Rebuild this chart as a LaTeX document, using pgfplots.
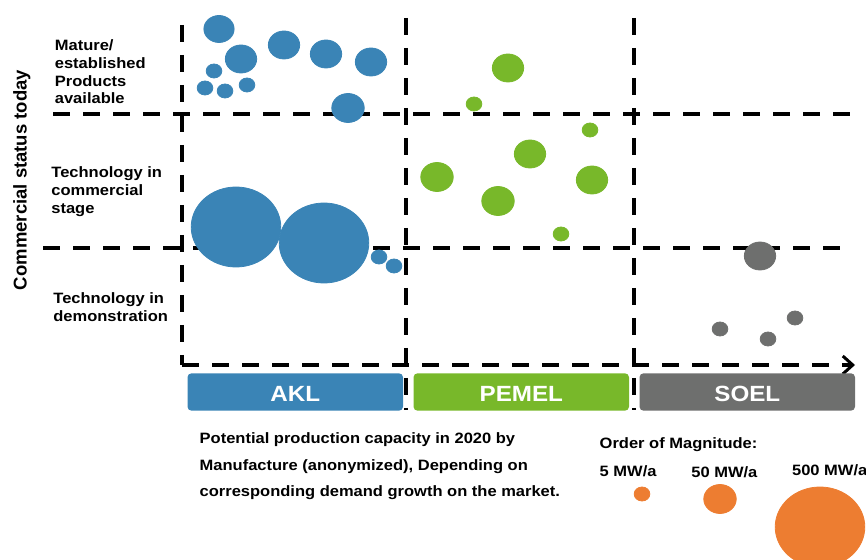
\documentclass[border=0pt]{standalone}
\usepackage{pgfplots}
\usepackage{pgfplotstable}
\pgfplotsset{compat=1.18}
\usepackage{fontspec}
\setmainfont{Liberation Sans}[FakeStretch=1.1]
\newfontfamily\rotfont{Liberation Sans}
\usetikzlibrary{arrows.meta}
\definecolor{akl}{HTML}{3A84B6}
\definecolor{pem}{HTML}{78B82A}
\definecolor{soe}{HTML}{6E6F6E}
\definecolor{org}{HTML}{ED7D31}
\pgfplotstableread{
x y r
219 29 13.5
241 59 14
284 45 14
326 54 14
371 62 14
214 71 7
205 88 7
225 91 7
247 85 7
348 108 14.5
236 227 40
324 243 40
379 257 7
394 266 7
}\akldata
\pgfplotstableread{
x y r
508 68 14
474 104 7
590 130 7
530 154 14
437 177 14.5
592 180 14
498 201 14.5
561 234 7
}\pemdata
\pgfplotstableread{
x y r
760 256 14
720 329 7
768 339 7
795 318 7
}\soedata
\pgfplotstableread{
x y r
642 494 7
720 499 14.5
820 527 40
}\orgdata
\begin{document}
\begin{tikzpicture}[
  txt/.style={inner sep=0pt, anchor=base west, font=\bfseries\fontsize{7.5}{9}\selectfont},
  box/.style={inner sep=0pt, anchor=base, text=white, font=\bfseries\fontsize{11}{11}\selectfont},
]
\begin{axis}[name=ax, width=433pt, height=280pt, scale only axis,
  xmin=0, xmax=866, ymin=0, ymax=560, y dir=reverse, hide axis, clip=false,
  bub/.style={scatter, only marks, mark=*,
    scatter/use mapped color={draw=#1, fill=#1},
    mark options={xscale=1.12},
    visualization depends on={0.5*\thisrow{r} \as \rad},
    scatter/@pre marker code/.append style={/tikz/mark size=\rad}},
  dl/.style={black, line width=2pt, dash pattern=on 8.7pt off 6.3pt},
]
% dashed grid
\addplot[dl] coordinates {(182,25) (182,365)};
\addplot[dl] coordinates {(406,18) (406,410)};
\addplot[dl] coordinates {(634,18) (634,410)};
\addplot[dl] coordinates {(53,114) (850,114)};
\addplot[dl] coordinates {(43,248) (846,248)};
\addplot[dl, -{Straight Barb[length=5pt, width=9pt, line width=1.5pt]}] coordinates {(182,365) (855,365)};
% bubbles
\addplot[bub=akl] table {\akldata};
\addplot[bub=pem] table {\pemdata};
\addplot[bub=soe] table {\soedata};
\addplot[bub=org] table {\orgdata};
% category boxes
\fill[akl, rounded corners=2pt] (axis cs:187.5,373.3) rectangle (axis cs:403,410.7);
\fill[pem, rounded corners=2pt] (axis cs:413.5,373.3) rectangle (axis cs:629,410.7);
\fill[soe, rounded corners=2pt] (axis cs:639.5,373.3) rectangle (axis cs:855,410.7);
\node[box] at (axis cs:295.3,401.7) {AKL};
\node[box] at (axis cs:521.3,401.7) {PEMEL};
\node[box] at (axis cs:747.3,401.7) {SOEL};
% y title
\node[rotate=90, anchor=base, inner sep=0pt, font=\rotfont\bfseries\fontsize{9.25}{10}\selectfont] at (axis cs:26.7,180) {Commercial status today};
% row labels
\node[txt] at (axis cs:54.5,50.7) {Mature/};
\node[txt] at (axis cs:54.5,68.5) {established};
\node[txt] at (axis cs:54.5,86.3) {Products};
\node[txt] at (axis cs:54.5,104) {available};
\node[txt] at (axis cs:51,178) {Technology in};
\node[txt] at (axis cs:51,196) {commercial};
\node[txt] at (axis cs:51,213.5) {stage};
\node[txt] at (axis cs:53,304) {Technology in};
\node[txt] at (axis cs:53,321.7) {demonstration};
% bottom text
\node[txt] at (axis cs:199.3,443.3) {Potential production capacity in 2020 by};
\node[txt] at (axis cs:199.3,470) {Manufacture (anonymized), Depending on};
\node[txt] at (axis cs:199.3,496.5) {corresponding demand growth on the market.};
% magnitude legend
\node[txt] at (axis cs:599.3,448.3) {Order of Magnitude:};
\node[txt] at (axis cs:599.3,476) {5 MW/a};
\node[txt] at (axis cs:691,477.3) {50 MW/a};
\node[txt] at (axis cs:791.7,475) {500 MW/a};
\end{axis}
\pgfresetboundingbox
\path (ax.south west) rectangle (ax.north east);
\end{tikzpicture}
\end{document}
